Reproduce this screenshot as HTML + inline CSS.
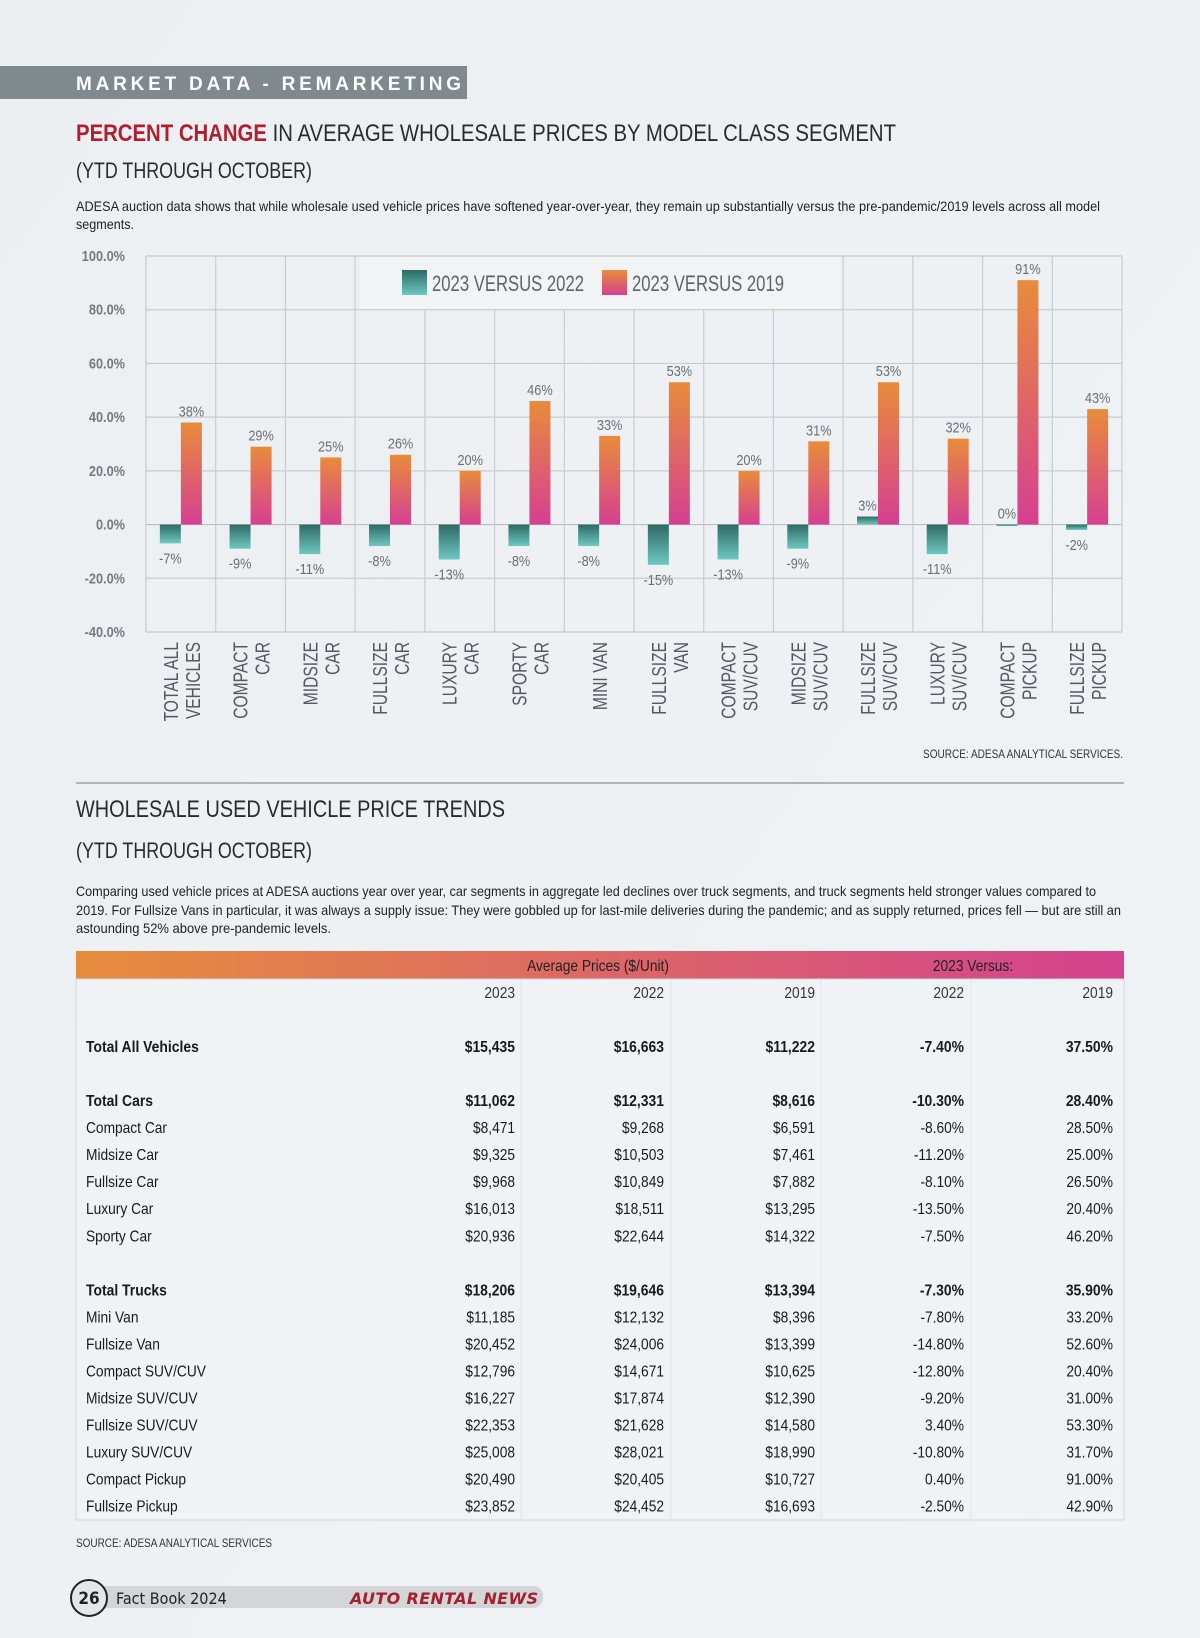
<!DOCTYPE html>
<html><head><meta charset="utf-8">
<style>
html,body{margin:0;padding:0;background:#eef1f4;}
svg{display:block;}
text{font-family:"Liberation Sans Narrow","Liberation Sans",sans-serif;}
</style></head>
<body>
<svg id="page" width="1200" height="1638" viewBox="0 0 1200 1638" xmlns="http://www.w3.org/2000/svg">
<defs>
<linearGradient id="bgGrad" x1="0" y1="0" x2="1" y2="1"><stop offset="0" stop-color="#eceff2"/><stop offset="1" stop-color="#f0f3f6"/></linearGradient>
<linearGradient id="tealGrad" x1="0" y1="0" x2="0" y2="1"><stop offset="0" stop-color="#2e6a64"/><stop offset="1" stop-color="#6ec8c1"/></linearGradient>
<linearGradient id="pinkGrad" x1="0" y1="0" x2="0" y2="1"><stop offset="0" stop-color="#e88c3a"/><stop offset="1" stop-color="#d63f92"/></linearGradient>
<linearGradient id="hdrGrad" x1="0" y1="0" x2="1" y2="0"><stop offset="0" stop-color="#e68d3d"/><stop offset="1" stop-color="#d3428f"/></linearGradient>
</defs>
<rect x="0" y="0" width="1200" height="1638" fill="url(#bgGrad)"/>

<rect x="0" y="66" width="467" height="33" fill="#7f898e"/>
<text x="76" y="90" font-size="19" font-weight="bold" fill="#ffffff" textLength="385" lengthAdjust="spacing">MARKET DATA - REMARKETING</text>

<text x="76" y="141" font-size="24" fill="#2b2b2b" textLength="820" lengthAdjust="spacingAndGlyphs"><tspan font-weight="bold" fill="#b01f2e">PERCENT CHANGE</tspan>  IN AVERAGE WHOLESALE PRICES BY MODEL CLASS SEGMENT</text>
<text x="76" y="178" font-size="22" fill="#2b2b2b" textLength="236" lengthAdjust="spacingAndGlyphs">(YTD THROUGH OCTOBER)</text>
<text x="76" y="211" font-size="14" fill="#222" textLength="1024" lengthAdjust="spacingAndGlyphs">ADESA auction data shows that while wholesale used vehicle prices have softened year-over-year, they remain up substantially versus the pre-pandemic/2019 levels across all model</text>
<text x="76" y="229" font-size="14" fill="#222" textLength="58" lengthAdjust="spacingAndGlyphs">segments.</text>

<g id="chart"></g>

<text x="1123" y="758" font-size="12" fill="#333" text-anchor="end" textLength="200" lengthAdjust="spacingAndGlyphs">SOURCE: ADESA ANALYTICAL SERVICES.</text>
<line x1="76" y1="783" x2="1124" y2="783" stroke="#777" stroke-width="1"/>

<text x="76" y="817" font-size="24" fill="#2b2b2b" textLength="429" lengthAdjust="spacingAndGlyphs">WHOLESALE USED VEHICLE PRICE TRENDS</text>
<text x="76" y="858" font-size="22" fill="#2b2b2b" textLength="236" lengthAdjust="spacingAndGlyphs">(YTD THROUGH OCTOBER)</text>
<text x="76" y="896" font-size="14" fill="#222" textLength="1020" lengthAdjust="spacingAndGlyphs">Comparing used vehicle prices at ADESA auctions year over year, car segments in aggregate led declines over truck segments, and truck segments held stronger values compared to</text>
<text x="76" y="915" font-size="14" fill="#222" textLength="1045" lengthAdjust="spacingAndGlyphs">2019. For Fullsize Vans in particular, it was always a supply issue: They were gobbled up for last-mile deliveries during the pandemic; and as supply returned, prices fell — but are still an</text>
<text x="76" y="933" font-size="14" fill="#222" textLength="255" lengthAdjust="spacingAndGlyphs">astounding 52% above pre-pandemic levels.</text>

<g id="table"></g>

<text x="76" y="1547" font-size="12" fill="#333" textLength="196" lengthAdjust="spacingAndGlyphs">SOURCE: ADESA ANALYTICAL SERVICES</text>

<rect x="89" y="1586" width="454" height="22" rx="10" fill="#d3d5d8"/>
<circle cx="89" cy="1598" r="18" fill="#e4e6e8" stroke="#222" stroke-width="2"/>
<text x="89" y="1604" font-size="17" font-weight="bold" fill="#222" text-anchor="middle" style="font-family:'DejaVu Sans Condensed','Liberation Sans',sans-serif">26</text>
<text x="116" y="1604" font-size="16" fill="#222" style="font-family:'DejaVu Sans Condensed','Liberation Sans',sans-serif">Fact Book 2024</text>
<text x="538" y="1604" font-size="16" font-weight="bold" font-style="italic" fill="#a3202e" text-anchor="end" textLength="188" lengthAdjust="spacing" style="font-family:'DejaVu Sans','Liberation Sans',sans-serif">AUTO RENTAL NEWS</text>
</svg>
<script>
// ---- chart data ----
const categories = [["TOTAL ALL","VEHICLES"],["COMPACT","CAR"],["MIDSIZE","CAR"],["FULLSIZE","CAR"],["LUXURY","CAR"],["SPORTY","CAR"],["MINI VAN"],["FULLSIZE","VAN"],["COMPACT","SUV/CUV"],["MIDSIZE","SUV/CUV"],["FULLSIZE","SUV/CUV"],["LUXURY","SUV/CUV"],["COMPACT","PICKUP"],["FULLSIZE","PICKUP"]];
const vs2022 = [-7,-9,-11,-8,-13,-8,-8,-15,-13,-9,3,-11,0,-2];
const vs2019 = [38,29,25,26,20,46,33,53,20,31,53,32,91,43];
const yTicks = [100,80,60,40,20,0,-20,-40];
const seriesNames = ["2023 VERSUS 2022","2023 VERSUS 2019"];

const NS="http://www.w3.org/2000/svg";
function mk(tag, attrs, parent){const e=document.createElementNS(NS,tag);for(const k in attrs)e.setAttribute(k,attrs[k]);parent.appendChild(e);return e;}
function ntext(parent,x,y,str,attrs,sx,rot){
  const t=mk('text',Object.assign({x:0,y:0},attrs),parent);
  t.setAttribute('transform',`translate(${x},${y})`+(rot?' rotate(-90)':'')+` scale(${sx},1)`);
  t.textContent=str;
  return t;
}
const chart=document.getElementById('chart');
const PL=146, PR=1122, YMAX=100, YMIN=-40, PT=256, PB=632;
const y=v=>PT+(YMAX-v)/(YMAX-YMIN)*(PB-PT);
const bw=(PR-PL)/categories.length;
const xc=i=>PL+bw*(i+0.5);
const LEG_X1=358, LEG_X2=842, LEG_Y2=309;

yTicks.forEach(t=>{
  const l=mk('line',{x1:PL,x2:PR,y1:y(t),y2:y(t),stroke:t===0?'#b9bec3':'#c8ccd1','stroke-width':1.2},chart);
  
  
  const tx=ntext(chart,125,y(t)+5,t.toFixed(1)+'%',{'font-size':15,'font-weight':'bold',fill:'#767a7e','text-anchor':'end'},0.85,false);
  
  
});
for(let i=0;i<=categories.length;i++){
  const x=PL+bw*i;
  const top=(x>LEG_X1+5&&x<LEG_X2-5)?LEG_Y2:PT;
  const l=mk('line',{x1:x,x2:x,y1:top,y2:PB,stroke:'#c8ccd1','stroke-width':1.2},chart);
  
  
}
const lg=mk('g',{},chart);


const lbg=mk('rect',{x:LEG_X1+2,y:PT+1,width:LEG_X2-LEG_X1-4,height:LEG_Y2-PT-1,fill:'#f1f3f5'},lg);


[[402,'url(#tealGrad)',432],[602,'url(#pinkGrad)',632]].forEach((d,k)=>{
  const r=mk('rect',{x:d[0],y:270,width:25,height:25,fill:d[1]},lg);
  
  
  const t=mk('text',{x:d[2],y:291,'font-size':22,fill:'#5f6368',textLength:152,lengthAdjust:'spacingAndGlyphs'},lg);
  t.textContent=seriesNames[k];
  
  
});
const BW=21;
categories.forEach((c,i)=>{
  const cx=xc(i);
  const v1=vs2022[i];
  const r1=mk('rect',{x:cx-BW,y:Math.min(y(v1),y(0)),width:BW,height:Math.max(Math.abs(y(v1)-y(0)),1.5),fill:'url(#tealGrad)'},chart);
  
  
  const t1=ntext(chart,cx-BW/2,v1<0?y(v1)+20:y(v1)-6,v1+'%',{'font-size':15,fill:'#6b6f73','text-anchor':'middle'},0.85,false);
  
  
  const v2=vs2019[i];
  const r2=mk('rect',{x:cx,y:Math.min(y(v2),y(0)),width:BW,height:Math.abs(y(v2)-y(0)),fill:'url(#pinkGrad)'},chart);
  
  
  const t2=ntext(chart,cx+BW/2,y(v2)-6,v2+'%',{'font-size':15,fill:'#6b6f73','text-anchor':'middle'},0.85,false);
  
  
  const lines=c.length===1?[[c[0],cx+8]]:[[c[0],cx-3],[c[1],cx+19]];
  lines.forEach(([txt,bx])=>{
    const t=ntext(chart,bx,642,txt,{'font-size':20,fill:'#55595d','text-anchor':'end'},0.78,true);
    
    
  });
});

// ---- table ----
const rowLabels=["Total All Vehicles","","Total Cars","Compact Car","Midsize Car","Fullsize Car","Luxury Car","Sporty Car","","Total Trucks","Mini Van","Fullsize Van","Compact SUV/CUV","Midsize SUV/CUV","Fullsize SUV/CUV","Luxury SUV/CUV","Compact Pickup","Fullsize Pickup"];
const price2023=["$15,435","","$11,062","$8,471","$9,325","$9,968","$16,013","$20,936","","$18,206","$11,185","$20,452","$12,796","$16,227","$22,353","$25,008","$20,490","$23,852"];
const price2022=["$16,663","","$12,331","$9,268","$10,503","$10,849","$18,511","$22,644","","$19,646","$12,132","$24,006","$14,671","$17,874","$21,628","$28,021","$20,405","$24,452"];
const price2019=["$11,222","","$8,616","$6,591","$7,461","$7,882","$13,295","$14,322","","$13,394","$8,396","$13,399","$10,625","$12,390","$14,580","$18,990","$10,727","$16,693"];
const chg2022=["-7.40%","","-10.30%","-8.60%","-11.20%","-8.10%","-13.50%","-7.50%","","-7.30%","-7.80%","-14.80%","-12.80%","-9.20%","3.40%","-10.80%","0.40%","-2.50%"];
const chg2019=["37.50%","","28.40%","28.50%","25.00%","26.50%","20.40%","46.20%","","35.90%","33.20%","52.60%","20.40%","31.00%","53.30%","31.70%","91.00%","42.90%"];
const boldRows=[0,2,9];
const tbl=document.getElementById('table');
const hb=mk('rect',{x:76,y:951,width:1048,height:28,fill:'url(#hdrGrad)'},tbl);


const box=mk('rect',{x:76,y:979,width:1048,height:541,fill:'#f2f4f6','fill-opacity':0.5,stroke:'#d2d6da','stroke-width':1},tbl);


[[598,'Average Prices ($/Unit)'],[973,'2023 Versus:']].forEach(d=>{
  const t=ntext(tbl,d[0],971,d[1],{'font-size':16,fill:'#222','text-anchor':'middle'},0.86,false);
  
  
});
const colX=[515,664,815,964,1113];
const colHeads=["2023","2022","2019","2022","2019"];
[521,671,821,971].forEach(x=>{
  const l=mk('line',{x1:x,x2:x,y1:979,y2:1520,stroke:'#e2e5e8','stroke-width':1},tbl);
  
  
});
colHeads.forEach((h,k)=>{
  const t=ntext(tbl,colX[k],998,h,{'font-size':16,fill:'#333','text-anchor':'end'},0.86,false);
  
  
});
const ROW0=1052, RH=27.04;
const cols=[price2023,price2022,price2019,chg2022,chg2019];
rowLabels.forEach((lab,r)=>{
  if(!lab) return;
  const yy=ROW0+r*RH;
  const b=boldRows.includes(r)?'bold':'normal';
  const sx=b==='bold'?0.87:0.86;
  const t=ntext(tbl,86,yy,lab,{'font-size':16,'font-weight':b,fill:'#1a1a1a'},sx,false);
  
  
  cols.forEach((c,k)=>{
    const v=ntext(tbl,colX[k],yy,c[r],{'font-size':16,'font-weight':b,fill:'#1a1a1a','text-anchor':'end'},sx,false);
    
    
  });
});
</script>
</body></html>
